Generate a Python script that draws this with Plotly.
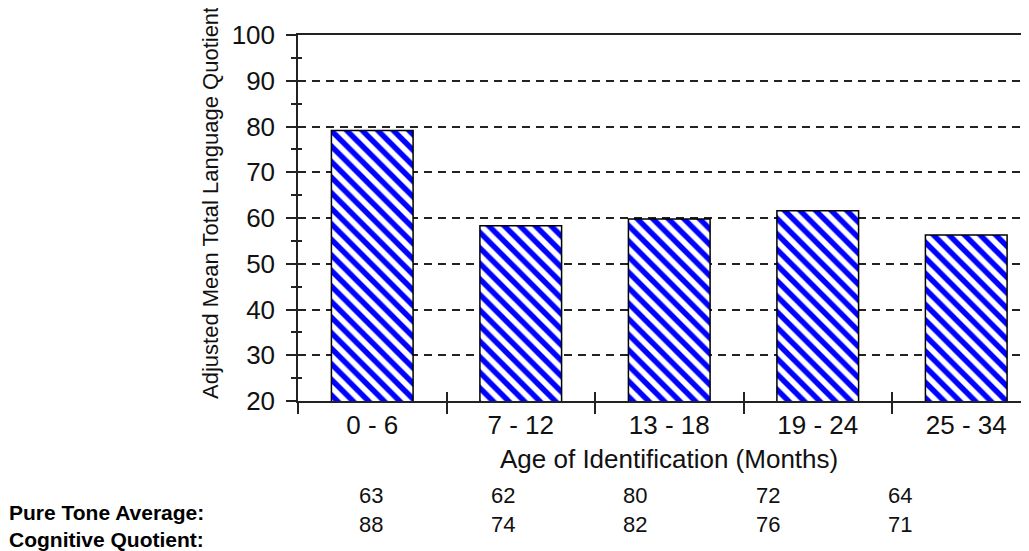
import plotly.graph_objects as go

categories = ["0 - 6", "7 - 12", "13 - 18", "19 - 24", "25 - 34"]
lang_quotient = [79.1, 58.3, 59.8, 61.6, 56.3]
pure_tone_avg = [63, 62, 80, 72, 64]
cognitive_quotient = [88, 74, 82, 76, 71]
row_labels = ["Pure Tone Average:", "Cognitive Quotient:"]
y_title = "Adjusted Mean Total Language Quotient"
x_title = "Age of Identification (Months)"

# page offset of the plot div (browser default body margin)
OFF = 8
W, H = 1029, 551
L = 298 - OFF          # plot area left edge in figure px
T = 35 - OFF           # plot area top in figure px
PW = 1029 - OFF - L    # plot reaches the right edge of the window
PH = 366
R = W - L - PW
B = H - T - PH
CAT_PX = 148.5
x_hi = -0.5 + PW / CAT_PX

def px_x(sx):
    return (sx - OFF - L) / PW

def px_y(sy):
    return (T + PH - (sy - OFF)) / PH

FONT = "Liberation Sans, Arial, sans-serif"
INK = "#111111"

fig = go.Figure()
fig.add_trace(go.Bar(
    x=categories, y=lang_quotient, width=0.55,
    marker=dict(color="white", line=dict(color="black", width=1.5),
                pattern=dict(shape="\\", fgcolor="#0000ff", bgcolor="white",
                             fgopacity=1, size=11, solidity=0.5, fillmode="overlay")),
    showlegend=False, hoverinfo="skip",
))
# empty helper trace to instantiate the overlay axes (crossing ticks)
fig.add_trace(go.Scatter(x=[], y=[], xaxis="x2", yaxis="y2", showlegend=False))

fig.update_layout(
    template="none",
    width=W, height=H, autosize=False,
    margin=dict(l=L, r=R, t=T, b=B, pad=0, autoexpand=False),
    plot_bgcolor="white", paper_bgcolor="white",
    font=dict(family=FONT, size=26, color=INK),
    xaxis=dict(
        type="category", categoryorder="array", categoryarray=categories,
        range=[-0.5, x_hi], tickson="boundaries", automargin=False,
        ticks="outside", ticklen=11, tickwidth=1.5, tickcolor="#222",
        showline=True, linecolor="#222", linewidth=1.5, mirror=True,
        showgrid=False, zeroline=False,
        tickfont=dict(size=26, family=FONT, color=INK),
    ),
    xaxis2=dict(
        overlaying="x", anchor="y", side="bottom", range=[-0.5, x_hi],
        automargin=False,
        tickmode="array", tickvals=[i - 0.5 for i in range(len(categories))],
        ticks="inside", ticklen=9, tickwidth=1.5, tickcolor="#222",
        showticklabels=False, showgrid=False, zeroline=False, showline=False,
    ),
    yaxis=dict(
        range=[20, 100], tickmode="linear", tick0=20, dtick=10, automargin=False,
        ticks="outside", ticklen=10, tickwidth=1.5, tickcolor="#222",
        minor=dict(ticks="outside", ticklen=5, tickwidth=1.5, tickcolor="#222",
                   dtick=5, tick0=20, showgrid=False),
        showline=True, linecolor="#222", linewidth=1.5,
        showgrid=True, gridcolor="#222", gridwidth=1.5, griddash="8px,6px",
        zeroline=False, ticklabelstandoff=6,
        tickfont=dict(size=26, family=FONT, color=INK),
    ),
    yaxis2=dict(
        overlaying="y", anchor="x", side="left", range=[20, 100], automargin=False,
        tickmode="linear", tick0=20, dtick=10,
        ticks="inside", ticklen=6, tickwidth=1.5, tickcolor="#222",
        minor=dict(ticks="inside", ticklen=4, tickwidth=1.5, tickcolor="#222",
                   dtick=5, tick0=20, showgrid=False),
        showticklabels=False, showgrid=False, zeroline=False, showline=False,
    ),
)

ann = []
ann.append(dict(text=y_title, textangle=-90, x=px_x(211), y=px_y(203),
                xref="paper", yref="paper", xanchor="center", yanchor="middle",
                showarrow=False, font=dict(size=22, family=FONT, color=INK)))
ann.append(dict(text=x_title, x=px_x(669), y=px_y(459),
                xref="paper", yref="paper", xanchor="center", yanchor="middle",
                showarrow=False, font=dict(size=26, family=FONT, color=INK)))
for i, (a, c) in enumerate(zip(pure_tone_avg, cognitive_quotient)):
    ann.append(dict(text=f"{a}<br>{c}", x=px_x(371 + 132.2 * i), y=px_y(510),
                    xref="paper", yref="paper", xanchor="center", yanchor="middle",
                    align="center", showarrow=False,
                    font=dict(size=22, family=FONT, color=INK)))
ann.append(dict(text="<b>" + "<br>".join(row_labels) + "</b>", x=px_x(7), y=px_y(526),
                xref="paper", yref="paper", xanchor="left", yanchor="middle",
                align="left", showarrow=False,
                font=dict(size=21, family=FONT, color="black")))
fig.update_layout(annotations=ann)

fig.write_html("out.html")
